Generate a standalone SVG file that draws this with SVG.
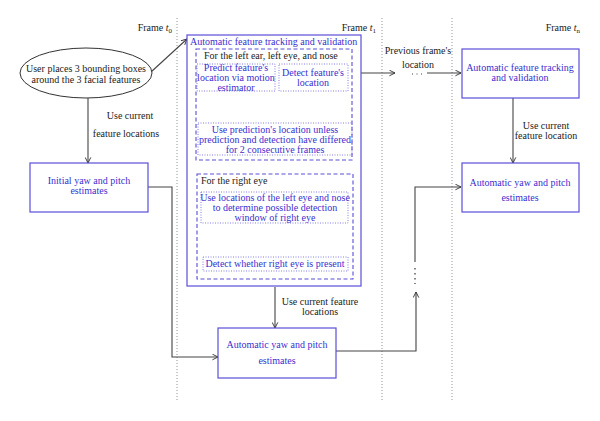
<svg xmlns="http://www.w3.org/2000/svg" width="600" height="421" viewBox="0 0 600 421">
<defs>
<marker id="arr" viewBox="0 0 10 10" refX="9" refY="5" markerWidth="7" markerHeight="7" orient="auto" markerUnits="userSpaceOnUse">
<path d="M1,1 L9,5 L1,9" fill="none" stroke="#333" stroke-width="1.3"/>
</marker>
<style>
text{font-family:"Liberation Serif","DejaVu Serif","Times New Roman",serif;font-size:10px}
.k{fill:#222}
.b{fill:#3a2fd0}
.c{text-anchor:middle}
.box{fill:#fff;stroke:#5a4fd8;stroke-width:1.2}
.dash{fill:none;stroke:#5a4fd8;stroke-width:1.1;stroke-dasharray:4,2.5}
.dot{fill:none;stroke:#7a70e0;stroke-width:0.9;stroke-dasharray:1,1.5}
.grid{stroke:#888;stroke-width:0.9;stroke-dasharray:1,2}
.con{fill:none;stroke:#444;stroke-width:1.1}
</style>
</defs>
<rect width="600" height="421" fill="#fff"/>
<g id="frames">
<line class="grid" x1="177" y1="18" x2="177" y2="400"/>
<line class="grid" x1="382" y1="18" x2="382" y2="400"/>
<line class="grid" x1="452" y1="18" x2="452" y2="400"/>
<text class="k" x="172" y="31" text-anchor="end">Frame <tspan font-style="italic">t</tspan><tspan font-size="7" dy="2">0</tspan></text>
<text class="k" x="376" y="31" text-anchor="end">Frame <tspan font-style="italic">t</tspan><tspan font-size="7" dy="2">1</tspan></text>
<text class="k" x="580" y="31" text-anchor="end">Frame <tspan font-style="italic">t</tspan><tspan font-size="7" dy="2">n</tspan></text>
</g>
<g id="connectors">
<line class="con" x1="151" y1="72" x2="187" y2="39" marker-end="url(#arr)"/>
<line class="con" x1="88" y1="98" x2="88" y2="163" marker-end="url(#arr)"/>
<polyline class="con" points="148,187 172,187 172,357 218,357" marker-end="url(#arr)"/>
<line class="con" x1="234" y1="92" x2="234" y2="123" marker-end="url(#arr)"/>
<line class="con" x1="313" y1="92" x2="313" y2="123" marker-end="url(#arr)"/>
<line class="con" x1="271" y1="160" x2="271" y2="192" marker-end="url(#arr)"/>
<line class="con" x1="273" y1="224" x2="273" y2="257" marker-end="url(#arr)"/>
<line class="con" x1="275" y1="287" x2="275" y2="328" marker-end="url(#arr)"/>
<polyline class="con" points="336,351 416,351 416,292" marker-end="url(#arr)"/>
<polyline class="con" points="415,262 415,187 461,187" marker-end="url(#arr)"/>
<line x1="415" y1="268" x2="415" y2="284" stroke="#444" stroke-width="1.3" stroke-dasharray="1.5,3.5"/>
<line class="con" x1="361" y1="73" x2="395" y2="73" marker-end="url(#arr)"/>
<line class="con" x1="427" y1="73" x2="461" y2="73" marker-end="url(#arr)"/>
<line x1="412" y1="74" x2="424" y2="74" stroke="#444" stroke-width="1" stroke-dasharray="1,3.5"/>
<line class="con" x1="513" y1="98" x2="513" y2="163" marker-end="url(#arr)"/>
<text class="k c" x="130" y="119">Use current</text>
<text class="k c" x="126" y="137">feature locations</text>
<text class="k c" x="320" y="305">Use current feature</text>
<text class="k c" x="320" y="315">locations</text>
<text class="k c" x="418" y="54">Previous frame's</text>
<text class="k c" x="418" y="68">location</text>
<text class="k c" x="546" y="129">Use current</text>
<text class="k c" x="546" y="139">feature location</text>
</g>
<g id="user">
<ellipse cx="86" cy="73" rx="66" ry="25" fill="#fff" stroke="#333" stroke-width="1"/>
<text class="k c" x="86" y="72">User places 3 bounding boxes</text>
<text class="k c" x="86" y="83">around the 3 facial features</text>
</g>
<g id="initial">
<rect class="box" x="30" y="163" width="118" height="49"/>
<text class="b c" x="89" y="183.5">Initial yaw and pitch</text>
<text class="b c" x="89" y="193.5">estimates</text>
</g>
<g id="tracking">
<rect class="box" x="187" y="35" width="174" height="251" fill="none"/>
<text class="b" x="190" y="45">Automatic feature tracking and validation</text>
</g>
<g id="left-group">
<rect class="dash" x="196" y="49" width="156" height="111"/>
<text class="k" x="204" y="59">For the left ear, left eye, and nose</text>
</g>
<g id="predict">
<rect class="dot" x="197" y="64" width="78" height="27"/>
<text class="b c" x="236" y="70.5">Predict feature's</text>
<text class="b c" x="236" y="80.5">location via motion</text>
<text class="b c" x="236" y="90.5">estimator</text>
</g>
<g id="detect">
<rect class="dot" x="279" y="64" width="69" height="27"/>
<text class="b c" x="313" y="75.5">Detect feature's</text>
<text class="b c" x="313" y="85.5">location</text>
</g>
<g id="useprediction">
<rect class="dot" x="198" y="123" width="154" height="32"/>
<text class="b c" x="275" y="133">Use prediction's location unless</text>
<text class="b c" x="275" y="143">prediction and detection have differed</text>
<text class="b c" x="275" y="153">for 2 consecutive frames</text>
</g>
<g id="right-group">
<rect class="dash" x="197" y="174" width="156" height="105"/>
<text class="k" x="201" y="184">For the right eye</text>
</g>
<g id="uselocations">
<rect class="dot" x="201" y="192" width="147" height="31"/>
<text class="b c" x="275" y="201">Use locations of the left eye and nose</text>
<text class="b c" x="275" y="211">to determine possible detection</text>
<text class="b c" x="275" y="221">window of right eye</text>
</g>
<g id="detectright">
<rect class="dot" x="203" y="257" width="145" height="14"/>
<text class="b c" x="275" y="267">Detect whether right eye is present</text>
</g>
<g id="yaw1">
<rect class="box" x="218" y="328" width="118" height="50"/>
<text class="b c" x="277" y="348">Automatic yaw and pitch</text>
<text class="b c" x="277" y="364">estimates</text>
</g>
<g id="trackingn">
<rect class="box" x="462" y="49" width="117" height="49"/>
<text class="b c" x="520" y="71">Automatic feature tracking</text>
<text class="b c" x="520" y="81">and validation</text>
</g>
<g id="yawn">
<rect class="box" x="462" y="163" width="117" height="49"/>
<text class="b c" x="520" y="186">Automatic yaw and pitch</text>
<text class="b c" x="520" y="201">estimates</text>
</g>
</svg>
